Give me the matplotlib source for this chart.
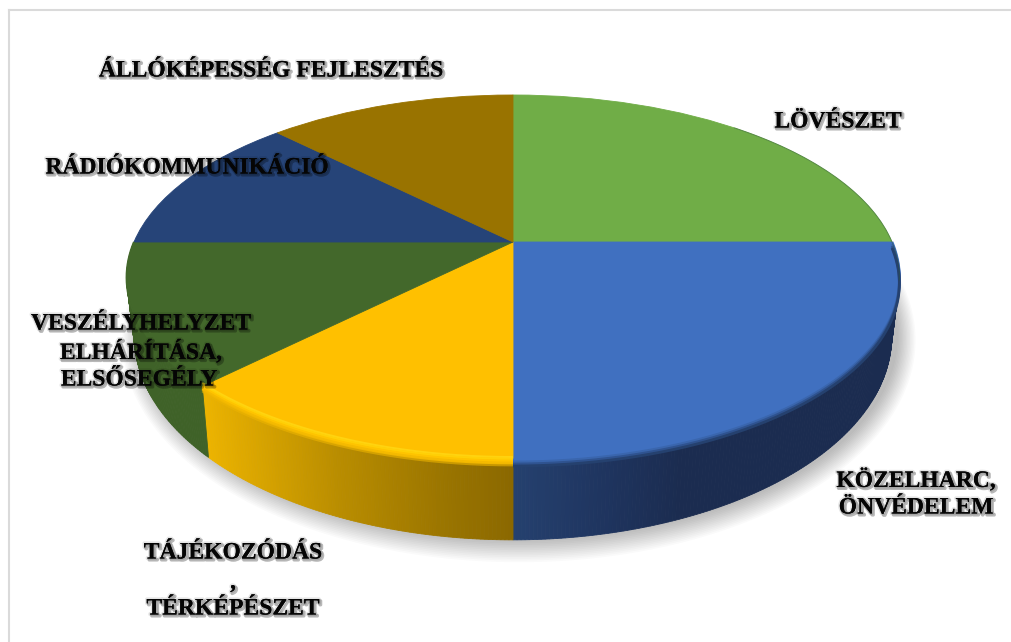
import numpy as np
import matplotlib
matplotlib.use("Agg")
import matplotlib.pyplot as plt
import matplotlib.patheffects as pe
from matplotlib.transforms import Transform
from matplotlib.colors import to_rgb

categories = ["LÖVÉSZET", "KÖZELHARC,\nÖNVÉDELEM", "TÁJÉKOZÓDÁS\n\n,\n\nTÉRKÉPÉSZET",
              "VESZÉLYHELYZET\nELHÁRÍTÁSA,\nELSŐSEGÉLY", "RÁDIÓKOMMUNIKÁCIÓ",
              "ÁLLÓKÉPESSÉG FEJLESZTÉS"]
values = [4, 4, 2, 2, 2, 2]
colors = ["#70AD47", "#4070C0", "#FFC000", "#43682B", "#264478", "#997300"]

CX, CY, RX, RY, K = 513.0, 242.0, 379.0, 175.6, 0.1945
DROP, SX, SY = 55.0, 0.98, 1.114


def project(x, y, sx=1.0, sy=1.0, dx=0.0, dy=0.0):
    w = 1 + K * y
    return CX + dx + sx * RX * x / w, CY + dy - sy * RY * y / w


class Perspective(Transform):
    input_dims = output_dims = 2

    def transform_non_affine(self, xy):
        xy = np.asarray(xy, float)
        px, py = project(xy[:, 0], xy[:, 1])
        return np.column_stack([px, py])


fig = plt.figure(figsize=(10.12, 6.42), dpi=100, facecolor="white")
ax = fig.add_axes([0, 0, 1, 1])

# slice angle ranges, clockwise from the top
frac = np.array(values, float) / np.sum(values)
edges = 90 - 360 * np.concatenate([[0], np.cumsum(frac)])


def rim(t, **kw):
    return project(np.cos(t), np.sin(t), **kw)


LOWER = dict(sx=SX, sy=SY, dy=DROP)

# soft shadow under the body
tt = np.radians(np.linspace(0, 360, 361))
for g in np.linspace(18, 0, 14):
    f = 1 + g / 380
    sx_, sy_ = rim(tt, sx=SX * f, sy=SY * (1 + g / 195), dy=DROP, dx=6)
    ax.fill(sx_, sy_, color="#000000", alpha=0.018, lw=0, zorder=1)

# side wall, strip by strip
side_stops = {
    1: [(513, "#25416F"), (600, "#1F3560"), (680, "#1B2C50"), (900, "#1B2C50")],
    2: [(205, "#EDB400"), (340, "#B98D00"), (440, "#9C7600"), (513, "#8A6800")],
    3: [(120, "#3F6228"), (215, "#3F6228")],
}


def grad(x, stops):
    xs = [s[0] for s in stops]
    cs = np.array([to_rgb(s[1]) for s in stops])
    return tuple(np.interp(x, xs, cs[:, i]) for i in range(3))


for i, stops in side_stops.items():
    a1, a0 = edges[i], edges[i + 1]
    a0, a1 = max(a0, -180 - 0), min(a1, 0)
    grid = np.radians(np.arange(a0, a1 + 0.01, 0.5))
    if grid[-1] < np.radians(a1):
        grid = np.append(grid, np.radians(a1))
    for t0, t1 in zip(grid[:-1], grid[1:]):
        ts = np.array([t0, t1])
        ux, uy = rim(ts)
        lx, ly = rim(ts, **LOWER)
        col = grad(0.5 * (ux.mean() + lx.mean()), stops)
        ax.fill(np.r_[ux, lx[::-1]], np.r_[uy, ly[::-1]], facecolor=col, edgecolor=col,
                lw=0.6, zorder=2)

# top surface
wedges, _ = ax.pie(values, colors=colors, startangle=90, counterclock=False, radius=1,
                   frame=True, wedgeprops=dict(lw=0.6))
persp = Perspective()
for w, c in zip(wedges, colors):
    w.set_edgecolor(c)
    w.set_transform(persp + ax.transData)
    w.set_zorder(4)

# bevel along the front rim
bevels = {
    1: [(0, "#4070C0", 2.0, 1), (2, "#3A66AE", 2.0, 1), (4, "#2F5390", 2.0, 1), (6, "#25416F", 2.0, 1)],
    2: [(-3, "#FFD814", 1.4, 0.8), (-1, "#FFD408", 1.6, 0.85), (1, "#FFC400", 2.0, 1),
        (3, "#F5BA00", 2.0, 1), (5, "#EDB400", 2.0, 0.6)],
    3: [(0, "#43682B", 1.5, 1)],
}
for i, layers in bevels.items():
    a1, a0 = min(edges[i], 0), max(edges[i + 1], -180)
    ts = np.radians(np.linspace(a0, a1, 160))
    for off, col, lw, al in layers:
        bx, by = rim(ts, dy=off)
        ax.plot(bx, by, color=col, lw=lw, alpha=al, zorder=5, solid_capstyle="butt")

# dark hairline on the back/right edge
ts = np.radians(np.linspace(-12, 48, 80))
bx, by = rim(ts)
ax.plot(bx, by, color="#2F5A38", lw=0.7, alpha=0.45, zorder=5)

# frame: a top and a left line only
ax.plot([9, 9], [10, 642], color="#DADADA", lw=1.5, zorder=0)
ax.plot([9, 1012], [10, 10], color="#DADADA", lw=1.5, zorder=0)

ax.set_aspect("auto")
ax.set_xlim(0, 1012)
ax.set_ylim(642, 0)
ax.set_xticks([])
ax.set_yticks([])
ax.set_frame_on(False)

# labels
fx = [dict(s="LÖVÉSZET", x=838, y=122),
      dict(s="KÖZELHARC,", x=916, y=480),
      dict(s="ÖNVÉDELEM", x=916, y=508),
      dict(s="TÁJÉKOZÓDÁS", x=233, y=553),
      dict(s=",", x=233, y=583),
      dict(s="TÉRKÉPÉSZET", x=233, y=609),
      dict(s="VESZÉLYHELYZET", x=141, y=324),
      dict(s="ELHÁRÍTÁSA,", x=141, y=352),
      dict(s="ELSŐSEGÉLY", x=139, y=380),
      dict(s="RÁDIÓKOMMUNIKÁCIÓ", x=187, y=168),
      dict(s="ÁLLÓKÉPESSÉG FEJLESZTÉS", x=271, y=71)]
for item in fx:
    t = ax.text(item["x"], item["y"], item["s"], family="Liberation Serif", weight="bold",
                fontsize=17, color="#050505", ha="center", va="center", zorder=8)
    t.set_path_effects([pe.SimpleLineShadow(offset=(1.2, -1.2), shadow_color="#000000", alpha=0.28, linewidth=2.0),
                        pe.withStroke(linewidth=2.4, foreground="#000000", alpha=0.10),
                        pe.Normal()])

fig.savefig("out.png", dpi=100, facecolor="white")
